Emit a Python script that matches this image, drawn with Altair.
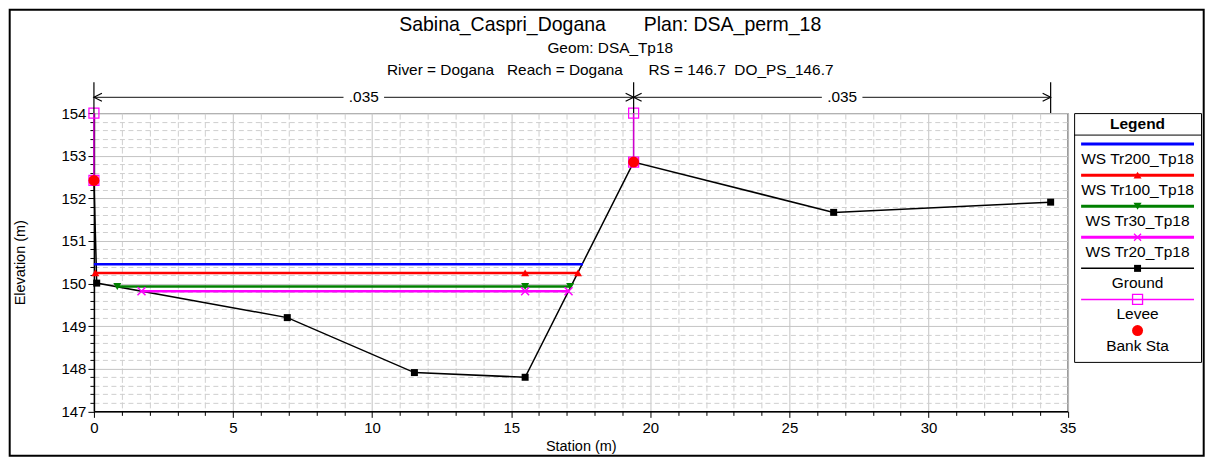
import altair as alt
import pandas as pd

# ---------------- data ----------------
ground_sta = [0.0, 0.1, 6.95, 11.52, 15.5, 19.4, 26.59, 34.39]
ground_elev = [152.42, 150.01, 149.2, 147.91, 147.8, 152.85, 151.67, 151.91]

ws_names = ["WS Tr200_Tp18", "WS Tr100_Tp18", "WS Tr30_Tp18", "WS Tr20_Tp18"]
ws_colors = ["#0000ff", "#ff0000", "#008000", "#ff00ff"]
ws_elev = [150.45, 150.25, 149.93, 149.82]
ws_start = [0.0, 0.05, 0.84, 1.71]
ws_end = [17.58, 17.40, 17.12, 17.06]
ws_marker_sta = [[], [0.05, 15.5, 17.40], [0.84, 15.5, 17.12], [1.71, 15.5, 17.06]]

levee_sta = [0.0, 19.4]
levee_top = [154.0, 154.0]
bank_sta = [0.0, 19.4]
bank_elev = [152.42, 152.85]

n_break_sta = [0.0, 19.4, 34.39]
n_values = [".035", ".035"]

NB = "\u00a0"
title_lines = [
    "Sabina_Caspri_Dogana" + NB * 7 + "Plan: DSA_perm_18",
    "Geom: DSA_Tp18",
    "River = Dogana" + NB * 3 + "Reach = Dogana" + NB * 6 + "RS = 146.7" + NB * 2 + "DO_PS_146.7",
]

legend_names = ["WS Tr200_Tp18", "WS Tr100_Tp18", "WS Tr30_Tp18", "WS Tr20_Tp18",
                "Ground", "Levee", "Bank Sta"]
legend_colors = ["#0000ff", "#ff0000", "#008000", "#ff00ff", "#000000", "#ff00ff", "#ff0000"]

x_ticks = list(range(0, 36))
y_ticks = [round(147 + 0.2 * k, 1) for k in range(36)]

FONT = "Liberation Sans"
W, H = 974.5, 298.5
LW, LH = 127, 249

# ---------------- tables ----------------
ws_line_df = pd.DataFrame({
    "series": [n for n in ws_names for _ in (0, 1)],
    "sta": [v for a, b in zip(ws_start, ws_end) for v in (a, b)],
    "elev": [e for e in ws_elev for _ in (0, 1)],
})
ws_pt_df = pd.DataFrame({
    "series": [n for n, s in zip(ws_names, ws_marker_sta) for _ in s],
    "sta": [v for s in ws_marker_sta for v in s],
    "elev": [e for e, s in zip(ws_elev, ws_marker_sta) for _ in s],
})
ground_df = pd.DataFrame({"sta": ground_sta, "elev": ground_elev})
levee_df = pd.DataFrame({"sta": levee_sta, "top": levee_top, "base": bank_elev})
levee_pts = pd.DataFrame({"sta": levee_sta + levee_sta, "elev": levee_top + bank_elev})
bank_df = pd.DataFrame({"sta": bank_sta, "elev": bank_elev})
nb_df = pd.DataFrame({"sta": n_break_sta})
nseg_df = pd.DataFrame({
    "a": n_break_sta[:-1], "b": n_break_sta[1:], "label": n_values,
})
nseg_df["mid"] = (nseg_df["a"] + nseg_df["b"]) / 2
one = pd.DataFrame({"k": [0]})

XS = alt.Scale(domain=[0, 35], nice=False, zero=False)
YS = alt.Scale(domain=[147, 154], nice=False, zero=False)

x_major = "datum.value % 5 === 0"
y_major = "abs(datum.value - round(datum.value)) < 0.01"

x_axis = alt.Axis(
    title="Station (m)", values=x_ticks,
    labelExpr=f"{x_major} ? datum.label : ''",
    labelFlush=False, labelOverlap=False, labelPadding=3,
    grid=True,
    gridColor={"condition": {"test": x_major, "value": "#c4c4c4"}, "value": "#cfcfcf"},
    gridDash={"condition": {"test": x_major, "value": []}, "value": [6, 2.5]},
    tickSize={"condition": {"test": x_major, "value": 6}, "value": 4},
    titleX=W / 2, titleY=35, titleBaseline="middle",
)
y_axis = alt.Axis(
    title="Elevation (m)", values=y_ticks,
    labelExpr=f"{y_major} ? format(datum.value, '.0f') : ''",
    labelFlush=False, labelOverlap=False, labelPadding=2,
    grid=True,
    gridColor={"condition": {"test": y_major, "value": "#c4c4c4"}, "value": "#cfcfcf"},
    gridDash={"condition": {"test": y_major, "value": []}, "value": [5, 3.5]},
    tickSize={"condition": {"test": y_major, "value": 6}, "value": 4},
    titleX=-73, titleY=H / 2, titleBaseline="middle", titleAlign="center",
)


def X(field):
    return alt.X(field, scale=XS, axis=x_axis)


def Y(field):
    return alt.Y(field, scale=YS, axis=y_axis)


col = alt.Scale(domain=ws_names, range=ws_colors)

ground_line = alt.Chart(ground_df).mark_line(color="black", strokeWidth=1.5).encode(
    x=X("sta:Q"), y=Y("elev:Q"),
)
ws_lines = alt.Chart(ws_line_df).mark_line(strokeWidth=2.5).encode(
    x=X("sta:Q"), y=Y("elev:Q"),
    color=alt.Color("series:N", scale=col, legend=None),
)


def ws_marks(name, shape, filled):
    return alt.Chart(ws_pt_df).transform_filter(alt.datum.series == name).mark_point(
        shape=shape, filled=filled, size=64, opacity=1, strokeWidth=1.5,
        color=ws_colors[ws_names.index(name)],
    ).encode(x=X("sta:Q"), y=Y("elev:Q"))


XPATH = "M-1,-1L1,1M-1,1L1,-1"
m100 = ws_marks("WS Tr100_Tp18", "triangle-up", True)
m30 = ws_marks("WS Tr30_Tp18", "triangle-down", True)
m20 = ws_marks("WS Tr20_Tp18", XPATH, False)

ground_pts = alt.Chart(ground_df).mark_point(
    shape="square", filled=True, size=49, color="black", opacity=1
).encode(x=X("sta:Q"), y=Y("elev:Q"))

levee_rule = alt.Chart(levee_df).mark_rule(color="#cc00cc", strokeWidth=1.6).encode(
    x=X("sta:Q"), y=Y("top:Q"), y2="base:Q",
)
levee_sq = alt.Chart(levee_pts).mark_point(
    shape="square", filled=False, size=100, color="#ff00ff", strokeWidth=1.2, opacity=1
).encode(x=X("sta:Q"), y=Y("elev:Q"))
bank = alt.Chart(bank_df).mark_point(
    shape="circle", filled=True, size=121, color="#ff0000", opacity=1
).encode(x=X("sta:Q"), y=Y("elev:Q"))

# Manning's n annotation above the plot
n_ticks = alt.Chart(nb_df).mark_rule(color="black", strokeWidth=1.2).encode(
    x=X("sta:Q"), y=alt.value(-31), y2=alt.value(0)
)
n_line = alt.Chart(nseg_df).mark_rule(color="#404040", strokeWidth=1.3).encode(
    x=X("a:Q"), x2="b:Q", y=alt.value(-15.8)
)
n_left = alt.Chart(nseg_df).mark_point(
    shape="M2,-1L0,0L2,1", filled=False, size=64, color="black", strokeWidth=1.2, opacity=1
).encode(x=X("a:Q"), y=alt.value(-15.8))
n_right = alt.Chart(nseg_df).mark_point(
    shape="M-2,-1L0,0L-2,1", filled=False, size=64, color="black", strokeWidth=1.2, opacity=1
).encode(x=X("b:Q"), y=alt.value(-15.8))
n_box = alt.Chart(nseg_df).mark_point(
    shape="M-2.9,-1L2.9,-1L2.9,1L-2.9,1Z", filled=True, size=196, color="white", opacity=1
).encode(x=X("mid:Q"), y=alt.value(-15.8))
n_text = alt.Chart(nseg_df).mark_text(
    fontSize=15.4, font=FONT, baseline="middle", color="black"
).encode(x=X("mid:Q"), y=alt.value(-15.8), text="label:N")

# Titles
t_sizes = [19.5, 15.4, 15.4]
t_ys = [-82.5, -59.8, -38.5]
titles = [
    alt.Chart(one).mark_text(text=t, fontSize=s, font=FONT, baseline="alphabetic",
                             align="center", color="black").encode(
        x=alt.value(516.7), y=alt.value(yy))
    for t, s, yy in zip(title_lines, t_sizes, t_ys)
]

# outer frame
frame = alt.Chart(one).mark_rect(fillOpacity=0, stroke="black", strokeWidth=2).encode(
    x=alt.value(-84.3), x2=alt.value(1110.7), y=alt.value(-103.5), y2=alt.value(343)
)

main = alt.layer(
    ground_line, ws_lines, m100, m30, m20, ground_pts, levee_rule, levee_sq, bank,
    n_ticks, n_line, n_box, n_text, n_left, n_right, *titles, frame,
).properties(width=W, height=H)

# ---------------- legend panel ----------------
leg_df = pd.DataFrame({"name": legend_names, "color": legend_colors,
                       "i": list(range(len(legend_names)))})
LY = alt.Scale(domain=[0, LH], range=[0, LH])
lbase = alt.Chart(leg_df).transform_calculate(
    ly="31 + 31.1 * datum.i", ty="46 + 31.1 * datum.i"
)
leg_lines = lbase.transform_filter("datum.i < 6").mark_rule().encode(
    x=alt.value(7), x2=alt.value(LW - 7),
    y=alt.Y("ly:Q", scale=LY, axis=None),
    color=alt.Color("color:N", scale=None),
    strokeWidth=alt.condition("datum.i < 4", alt.value(3), alt.value(1.5)),
)


def leg_mark(i, shape, filled, size):
    return lbase.transform_filter(f"datum.i == {i}").mark_point(
        shape=shape, filled=filled, size=size, opacity=1, strokeWidth=1.3,
        color=legend_colors[i],
    ).encode(x=alt.value(LW / 2), y=alt.Y("ly:Q", scale=LY, axis=None))


leg_marks = [
    leg_mark(1, "triangle-up", True, 64),
    leg_mark(2, "triangle-down", True, 64),
    leg_mark(3, XPATH, False, 49),
    leg_mark(4, "square", True, 49),
    leg_mark(5, "square", False, 100),
    leg_mark(6, "circle", True, 121),
]
leg_text = lbase.mark_text(fontSize=15.5, font=FONT, baseline="middle", color="black").encode(
    x=alt.value(LW / 2), y=alt.Y("ty:Q", scale=LY, axis=None), text="name:N"
)
leg_title = alt.Chart(one).mark_text(
    text="Legend", fontSize=15.5, fontWeight="bold", font=FONT, baseline="middle", color="black"
).encode(x=alt.value(LW / 2), y=alt.value(10.5))
leg_div = alt.Chart(one).mark_rule(color="black", strokeWidth=1).encode(
    x=alt.value(0), x2=alt.value(LW), y=alt.value(22)
)
legend = alt.layer(leg_title, leg_div, leg_lines, *leg_marks, leg_text).properties(
    width=LW, height=LH
)

chart = alt.hconcat(main, legend, spacing=6, bounds="flush").properties(
    padding=0
).configure(font=FONT).configure_view(
    stroke="black", strokeWidth=1
).configure_axis(
    labelFont=FONT, titleFont=FONT, labelFontSize=15, titleFontSize=14.5,
    labelColor="black", titleColor="black", titleFontWeight="normal",
    domainColor="black", domainWidth=1.5, tickColor="black", tickWidth=1,
)

chart.save("out.html", embed_options={"renderer": "svg", "actions": False})
